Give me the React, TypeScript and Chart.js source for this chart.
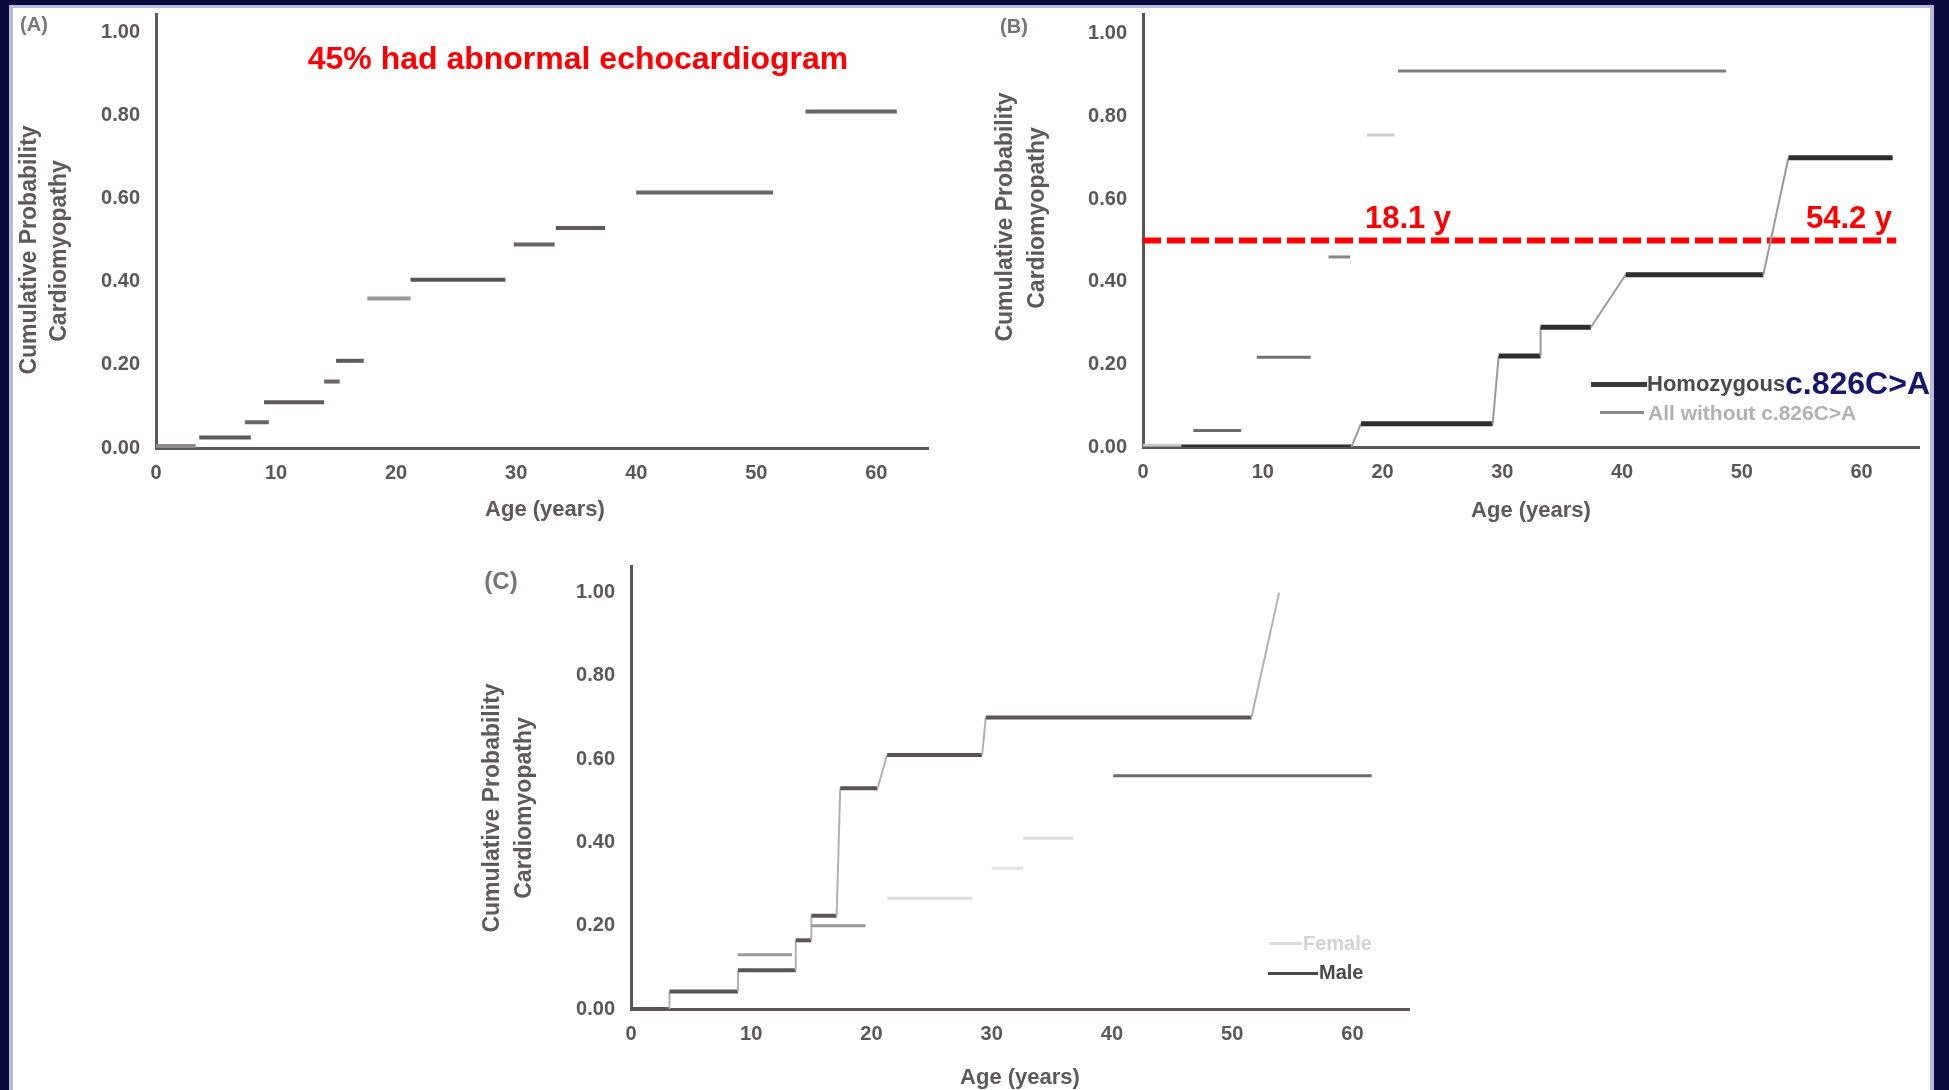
import React, { useEffect, useRef } from "react";
import { Chart, registerables } from "chart.js";

Chart.register(...registerables);

// ---------------- shared axis ticks ----------------
const yTickValues = [0, 0.2, 0.4, 0.6, 0.8, 1.0];
const yTickLabels = ["0.00", "0.20", "0.40", "0.60", "0.80", "1.00"];
const xTickValues = [0, 10, 20, 30, 40, 50, 60];
const xTickLabels = ["0", "10", "20", "30", "40", "50", "60"];

// ---------------- Panel A : all patients (step segments) ----------------
const aStart = [0, 3.6, 7.4, 9.0, 14.0, 15.0, 17.6, 21.2, 29.8, 33.3, 40.0, 54.1];
const aEnd = [3.3, 7.9, 9.4, 14.0, 15.3, 17.3, 21.2, 29.1, 33.2, 37.4, 51.4, 61.7];
const aValue = [0.005, 0.025, 0.062, 0.11, 0.16, 0.21, 0.36, 0.405, 0.49, 0.53, 0.615, 0.81];

// ---------------- Panel B : homozygous vs others ----------------
const bHomoAge = [0, 17.4, 18.2, 29.2, 29.7, 33.2, 33.2, 37.4, 40.3, 51.8, 53.9, 62.6];
const bHomoValue = [0.0, 0.0, 0.056, 0.056, 0.22, 0.22, 0.29, 0.29, 0.417, 0.417, 0.70, 0.70];
const bOtherStart = [0, 4.2, 9.5, 15.5, 18.7, 21.3];
const bOtherEnd = [3.2, 8.2, 14.0, 17.3, 21.0, 48.7];
const bOtherValue = [0.004, 0.04, 0.217, 0.46, 0.755, 0.91];
const bRefAge = [0, 62.9];
const bRefValue = [0.5, 0.5];

// ---------------- Panel C : male vs female ----------------
const cMaleAge = [0, 3.2, 3.2, 8.9, 8.9, 13.7, 13.7, 15.0, 15.0, 17.1, 17.4, 20.5, 21.3, 29.2, 29.5, 51.6, 53.9];
const cMaleValue = [0, 0, 0.042, 0.042, 0.093, 0.093, 0.165, 0.165, 0.224, 0.224, 0.53, 0.53, 0.61, 0.61, 0.70, 0.70, 1.0];
const cFemaleStart = [8.9, 15.0, 21.3, 30.0, 32.6, 40.1];
const cFemaleEnd = [13.4, 19.5, 28.4, 32.6, 36.8, 61.6];
const cFemaleValue = [0.13, 0.20, 0.266, 0.338, 0.41, 0.56];

// ---------------- styles (kept apart from data) ----------------
const FONT = "'Liberation Sans', Arial, Helvetica, sans-serif";
const AXIS_GRAY = "#5c565a";
const aShade = ["#8e888c", "#5f585c", "#6a6468", "#5f585c", "#6a6468", "#5f585c", "#9a9498", "#5a5458", "#6a6468", "#5f585c", "#6a6468", "#6a6468"];
const bOtherShade = ["#c8c8c8", "#6e6e6e", "#707070", "#858585", "#cfcfcf", "#7d7d7d"];
const cFemaleShade = ["#9a9a9a", "#9a9a9a", "#dcdcdc", "#e2e2e2", "#dadada", "#6a6a6a"];

function segPoints(start: number[], end: number[], value: number[]) {
  const pts: { x: number; y: number | null }[] = [];
  for (let i = 0; i < start.length; i++) {
    pts.push({ x: start[i], y: value[i] }, { x: end[i], y: value[i] }, { x: end[i], y: null });
  }
  return pts;
}

function segDataset(start: number[], end: number[], value: number[], shades: string[], width: number) {
  return {
    data: segPoints(start, end, value),
    borderColor: shades[0],
    borderWidth: width,
    pointRadius: 0,
    spanGaps: false,
    borderCapStyle: "butt",
    segment: {
      borderColor: (ctx: any) => shades[Math.floor(ctx.p0DataIndex / 3)] || shades[0],
    },
  };
}

function stepDataset(ages: number[], values: number[], dark: string, light: string, width: number, thin: number) {
  return {
    data: ages.map((a, i) => ({ x: a, y: values[i] })),
    borderColor: dark,
    borderWidth: width,
    pointRadius: 0,
    borderCapStyle: "butt",
    segment: {
      borderColor: (ctx: any) => (ctx.p0.parsed.y === ctx.p1.parsed.y ? dark : light),
      borderWidth: (ctx: any) => (ctx.p0.parsed.y === ctx.p1.parsed.y ? width : thin),
    },
  };
}

type Geo = { left: number; top: number; right: number; bottom: number; xMax: number; yMax: number };

function buildOptions(g: Geo): any {
  const tickFont = { family: FONT, size: 20, weight: "bold" as const };
  return {
    animation: false,
    responsive: false,
    maintainAspectRatio: false,
    layout: { padding: { left: 0, top: g.top, right: g.right, bottom: g.bottom } },
    plugins: { legend: { display: false }, tooltip: { enabled: false }, title: { display: false } },
    scales: {
      x: {
        type: "linear",
        min: 0,
        max: g.xMax,
        afterBuildTicks: (s: any) => {
          s.ticks = xTickValues.map((v) => ({ value: v }));
        },
        afterFit: (s: any) => {
          s.height = 40;
          s.paddingLeft = 0;
          s.paddingRight = 0;
        },
        grid: { display: false, drawTicks: false, tickLength: 0 },
        border: { display: true, color: AXIS_GRAY, width: 3 },
        ticks: {
          padding: 13,
          color: AXIS_GRAY,
          font: tickFont,
          maxRotation: 0,
          autoSkip: false,
          callback: (_v: any, i: number) => xTickLabels[i],
        },
      },
      y: {
        type: "linear",
        min: 0,
        max: g.yMax,
        afterBuildTicks: (s: any) => {
          s.ticks = yTickValues.map((v) => ({ value: v }));
        },
        afterFit: (s: any) => {
          s.width = g.left;
          s.paddingTop = 0;
          s.paddingBottom = 0;
        },
        grid: { display: false, drawTicks: false, tickLength: 0 },
        border: { display: true, color: AXIS_GRAY, width: 3 },
        ticks: {
          padding: 16,
          color: AXIS_GRAY,
          font: tickFont,
          autoSkip: false,
          callback: (_v: any, i: number) => yTickLabels[i],
        },
      },
    },
  };
}

function ChartCanvas(props: { x: number; y: number; w: number; h: number; make: () => any }) {
  const ref = useRef<HTMLCanvasElement | null>(null);
  useEffect(() => {
    if (!ref.current) return;
    const chart = new Chart(ref.current, props.make());
    return () => chart.destroy();
  }, []);
  return (
    <canvas
      ref={ref}
      width={props.w}
      height={props.h}
      style={{ position: "absolute", left: props.x, top: props.y, width: props.w, height: props.h }}
    />
  );
}

function Txt(props: { x: number; y: number; text: string; size: number; color: string; rotate?: boolean; anchor?: "center" | "left" }) {
  const tr = props.anchor === "left" ? "translate(0,-50%)" : "translate(-50%,-50%)";
  return (
    <div
      style={{
        position: "absolute",
        left: props.x,
        top: props.y,
        transform: tr + (props.rotate ? " rotate(-90deg)" : ""),
        fontFamily: FONT,
        fontWeight: "bold",
        fontSize: props.size,
        color: props.color,
        whiteSpace: "nowrap",
        lineHeight: 1,
      }}
    >
      {props.text}
    </div>
  );
}

function Bar(props: { x1: number; x2: number; y: number; t: number; color: string }) {
  return (
    <div
      style={{
        position: "absolute",
        left: props.x1,
        top: props.y - props.t / 2,
        width: props.x2 - props.x1,
        height: props.t,
        background: props.color,
      }}
    />
  );
}

export default function App() {
  const makeA = () => ({
    type: "line",
    data: { datasets: [segDataset(aStart, aEnd, aValue, aShade, 4)] },
    options: buildOptions({ left: 156, top: 14, right: 32, bottom: 52, xMax: 64.3, yMax: 1.045 }),
  });
  const makeB = () => ({
    type: "line",
    data: {
      datasets: [
        segDataset(bOtherStart, bOtherEnd, bOtherValue, bOtherShade, 3),
        stepDataset(bHomoAge, bHomoValue, "#2e2e2e", "#9a9a9a", 5, 2),
        {
          data: bRefAge.map((a, i) => ({ x: a, y: bRefValue[i] })),
          borderColor: "#ff0000",
          borderWidth: 6,
          borderDash: [18, 6],
          borderCapStyle: "butt",
          pointRadius: 0,
        },
      ],
    },
    options: buildOptions({ left: 183, top: 14, right: 30, bottom: 53, xMax: 64.8, yMax: 1.048 }),
  });
  const makeC = () => ({
    type: "line",
    data: {
      datasets: [
        segDataset(cFemaleStart, cFemaleEnd, cFemaleValue, cFemaleShade, 3),
        stepDataset(cMaleAge, cMaleValue, "#5a5458", "#b4b0b2", 4, 2),
      ],
    },
    options: buildOptions({ left: 191, top: 26, right: 31, bottom: 41, xMax: 64.7, yMax: 1.064 }),
  });

  const titleGray = "#5e585c";

  return (
    <div
      style={{
        position: "fixed",
        left: 0,
        top: 0,
        width: 1949,
        height: 1090,
        background: "#0b0a3d",
        overflow: "hidden",
      }}
    >
      <div
        style={{
          position: "absolute",
          left: 9,
          top: 5,
          width: 1925,
          height: 1090,
          background: "#b9b8de",
        }}
      />
      <div
        style={{
          position: "absolute",
          left: 13,
          top: 8,
          width: 1917,
          height: 1082,
          background: "#ffffff",
        }}
      />

      <ChartCanvas x={0} y={0} w={960} h={540} make={makeA} />
      <ChartCanvas x={960} y={0} w={989} h={540} make={makeB} />
      <ChartCanvas x={440} y={540} w={1000} h={550} make={makeC} />

      {/* Panel A texts */}
      <Txt x={34} y={24} text="(A)" size={20} color="#7a7478" />
      <Txt x={28} y={250} text="Cumulative Probability" size={23} color={titleGray} rotate />
      <Txt x={58} y={251} text="Cardiomyopathy" size={23} color={titleGray} rotate />
      <Txt x={545} y={509} text="Age (years)" size={22} color={titleGray} />
      <Txt x={578} y={58} text="45% had abnormal echocardiogram" size={32} color="#ff0000" />

      {/* Panel B texts */}
      <Txt x={1014} y={26} text="(B)" size={20} color="#7a7478" />
      <Txt x={1004} y={217} text="Cumulative Probability" size={23} color={titleGray} rotate />
      <Txt x={1036} y={218} text="Cardiomyopathy" size={23} color={titleGray} rotate />
      <Txt x={1531} y={510} text="Age (years)" size={22} color={titleGray} />
      <Txt x={1408} y={217} text="18.1 y" size={31} color="#ff0000" />
      <Txt x={1849} y={217} text="54.2 y" size={31} color="#ff0000" />
      <Bar x1={1591} x2={1647} y={384} t={5} color="#3a3a3a" />
      <Txt x={1647} y={384} text="Homozygous" size={22} color="#4a4a4a" anchor="left" />
      <Txt x={1785} y={383} text="c.826C>A" size={32} color="#16166e" anchor="left" />
      <Bar x1={1600} x2={1644} y={412} t={3} color="#8a8a8a" />
      <Txt x={1648} y={412} text="All without c.826C>A" size={21} color="#b0b0b0" anchor="left" />

      {/* Panel C texts */}
      <Txt x={501} y={581} text="(C)" size={24} color="#7a7478" />
      <Txt x={491} y={808} text="Cumulative Probability" size={23} color={titleGray} rotate />
      <Txt x={523} y={808} text="Cardiomyopathy" size={23} color={titleGray} rotate />
      <Txt x={1020} y={1077} text="Age (years)" size={22} color={titleGray} />
      <Bar x1={1269} x2={1302} y={943} t={3} color="#dcdcdc" />
      <Txt x={1303} y={943} text="Female" size={20} color="#d2d2d2" anchor="left" />
      <Bar x1={1268} x2={1318} y={973} t={3} color="#4a4a4a" />
      <Txt x={1319} y={972} text="Male" size={20} color="#4a4a4a" anchor="left" />
    </div>
  );
}
